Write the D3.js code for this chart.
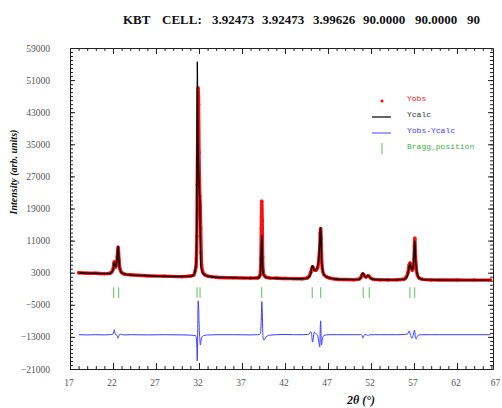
<!DOCTYPE html>
<html><head><meta charset="utf-8">
<script src="https://cdn.jsdelivr.net/npm/d3@7"></script>
<style>html,body{margin:0;padding:0;background:#fff;} svg{display:block;}</style>
</head><body><svg id="chart" width="502" height="408"></svg>
<script>
// ---------------- DATA ----------------
const titleParts = ["KBT", "CELL:", "3.92473", "3.92473", "3.99626", "90.0000", "90.0000", "90"];

const twoTheta = [
  18, 19, 20, 21, 21.6,
  21.8, 22.0, 22.1, 22.15, 22.2, 22.3, 22.4, 22.5, 22.55, 22.6, 22.7, 22.8, 23.0, 23.4,
  24, 26, 28, 30, 31.0, 31.4,
  31.55, 31.65, 31.7, 31.75, 31.8, 31.85, 31.9, 31.95, 32.0, 32.05, 32.1, 32.15, 32.2, 32.25, 32.3, 32.4, 32.5, 32.7, 33.0, 33.5,
  34, 36, 38, 38.8,
  39.0, 39.1, 39.15, 39.2, 39.25, 39.3, 39.35, 39.4, 39.45, 39.55, 39.8, 40.2,
  41, 42, 43, 44, 44.6,
  44.8, 45.0, 45.1, 45.2, 45.3, 45.4, 45.6, 45.8, 45.95, 46.05, 46.1, 46.15, 46.2, 46.25, 46.35, 46.5, 46.8, 47.2,
  48, 49, 50, 50.6,
  50.8, 50.95, 51.05, 51.15, 51.3, 51.45, 51.6, 51.7, 51.8, 52.0, 52.4,
  53, 54, 55, 55.9,
  56.1, 56.3, 56.45, 56.55, 56.65, 56.8, 56.9, 57.0, 57.05, 57.1, 57.15, 57.25, 57.4, 57.6, 58.0,
  59, 60, 62, 64, 65.9
];

const yObs = [
  2980, 2880, 2870, 2760, 2820,
  3050, 3800, 5200, 5700, 5100, 4400, 4900, 7000, 8600, 9300, 6200, 4000, 3050, 2600,
  2480, 2230, 2120, 2020, 2170, 2420,
  3400, 4500, 6500, 12000, 25000, 38000, 49000, 45000, 33000, 26000, 22000, 19500, 14000, 8000, 5000, 3500, 2900, 2450, 2150, 2000,
  1870, 1730, 1660, 1680,
  1950, 2400, 3300, 6500, 14000, 20800, 16000, 7000, 3600, 2400, 1900, 1700,
  1620, 1540, 1520, 1480, 1680,
  2100, 3100, 4000, 4500, 4100, 3700, 3600, 4300, 6500, 10000, 12800, 14000, 11500, 7200, 3900, 2600, 2000, 1650,
  1370, 1290, 1260, 1380,
  1750, 2400, 2700, 2500, 2050, 1950, 2150, 2200, 2050, 1600, 1320,
  1260, 1220, 1230, 1420,
  1900, 3000, 5000, 5400, 4400, 3600, 4200, 6500, 9500, 11600, 8500, 4600, 2400, 1650, 1350,
  1210, 1170, 1170, 1140, 1160
];

const yCalc = [
  2950, 2900, 2850, 2780, 2800,
  3000, 3700, 4800, 5600, 5300, 4500, 5000, 7500, 9200, 9600, 6000, 3900, 3000, 2650,
  2450, 2250, 2100, 2050, 2150, 2450,
  3500, 5000, 8000, 18000, 55500, 42000, 34000, 29000, 25500, 23000, 20500, 14000, 6000, 4500, 3800, 3100, 2700, 2400, 2150, 2000,
  1850, 1750, 1650, 1700,
  1900, 2300, 3000, 5000, 9500, 12300, 9000, 5000, 3200, 2300, 1850, 1700,
  1600, 1550, 1500, 1500, 1650,
  2000, 2800, 4000, 4800, 4300, 3600, 3700, 4500, 7000, 11000, 13500, 14200, 11000, 7000, 4000, 2700, 2000, 1700,
  1350, 1300, 1280, 1350,
  1700, 2500, 2900, 2600, 2100, 2000, 2200, 2250, 2000, 1550, 1300,
  1250, 1230, 1220, 1400,
  1800, 2800, 4700, 5300, 4400, 3700, 4300, 7000, 10000, 11000, 8000, 4500, 2500, 1700, 1350,
  1200, 1180, 1160, 1150, 1150
];

const yDiff = [
  -12450, -12500, -12450, -12500, -12450,
  -12400, -12300, -11600, -11200, -11800, -12400, -12500, -12800, -13300, -13200, -12700, -12300, -12400, -12500,
  -12450, -12500, -12450, -12500, -12550, -12650,
  -12600, -12900, -13500, -15500, -19000, -12000, -4000, -5000, -9000, -12000, -13500, -15000, -14500, -13800, -13200, -12900, -12700, -12600, -12500, -12500,
  -12450, -12450, -12500, -12450,
  -12400, -12300, -12100, -11000, -8000, -4200, -6000, -10500, -13300, -13800, -13000, -12600,
  -12450, -12400, -12450, -12450, -12400,
  -12300, -11700, -12400, -14300, -13200, -11800, -12200, -12600, -14500, -15500, -11000, -9000, -13000, -15000, -13500, -12700, -12500, -12450,
  -12450, -12450, -12450, -12450,
  -12400, -12600, -13300, -12900, -12400, -12450, -12600, -12700, -12500, -12450, -12450,
  -12450, -12450, -12450, -12400,
  -12350, -12200, -11500, -12200, -13000, -13300, -12600, -11800, -11300, -11600, -13000, -13500, -12800, -12500, -12450,
  -12450, -12450, -12450, -12450, -12450
];

const braggPositions = [22.08, 22.66, 31.77, 32.12, 39.29, 45.17, 46.15, 51.1, 51.8, 56.53, 57.08];

const xTickValues = [17, 22, 27, 32, 37, 42, 47, 52, 57, 62, 67];
const yTickValues = [59000, 51000, 43000, 35000, 27000, 19000, 11000, 3000, -5000, -13000, -21000];
const legendLabels = ["Yobs", "Ycalc", "Yobs-Ycalc", "Bragg_position"];
const xTitle = "2θ (°)";
const yTitle = "Intensity (arb. units)";

// ---------------- LAYOUT ----------------
const svg = d3.select("#chart");
const frame = {left: 70, right: 493, top: 48, bottom: 369};
const x = d3.scaleLinear().domain([17, 66.19]).range([frame.left, frame.right]);
const y = d3.scaleLinear().domain([-21000, 59000]).range([frame.bottom, frame.top]);
const serif = "'Liberation Serif', 'Times New Roman', serif";
const mono = "'Liberation Mono', 'Courier New', monospace";
const axisColor = "#222";
const labelColor = "#555";

// Title
const titleX = [123, 162, 212, 262, 313, 363, 415, 467];
svg.append("text")
  .attr("y", 24)
  .attr("font-family", serif).attr("font-weight", "bold").attr("font-size", 13)
  .attr("fill", "#111")
  .selectAll("tspan").data(titleParts).join("tspan")
  .attr("x", (d, i) => titleX[i]).text(d => d);

// Axes
const n = twoTheta.length;
const minorX = d3.range(17, 67, 1).filter(v => v <= x.domain()[1]);
const minorY = d3.range(-21000, 59001, 1000);

function styleAxis(g) {
  g.selectAll("path.domain").attr("stroke", axisColor).attr("stroke-width", 1);
  g.selectAll(".tick line").attr("stroke", axisColor);
  g.selectAll("text").attr("fill", labelColor);
}

// bottom
const gxB = svg.append("g").attr("transform", `translate(0,${frame.bottom})`)
  .call(d3.axisBottom(x).tickValues(xTickValues).tickSize(-6).tickSizeOuter(0).tickPadding(10).tickFormat(d3.format("d")))
  .attr("font-family", serif).attr("font-size", 9.5);
gxB.selectAll(".tick").filter(d => d > x.domain()[1]).select("line").remove();
gxB.selectAll("text").attr("dx", d => d > x.domain()[1] ? -5 : -1.5);
styleAxis(gxB);
svg.append("g").attr("transform", `translate(0,${frame.bottom})`)
  .call(d3.axisBottom(x).tickValues(minorX).tickSize(-3).tickSizeOuter(0).tickFormat(""))
  .call(g => g.select(".domain").remove()).call(styleAxis);

// top
const gxT = svg.append("g").attr("transform", `translate(0,${frame.top})`)
  .call(d3.axisTop(x).tickValues(xTickValues.filter(v => v <= x.domain()[1])).tickSize(-6).tickSizeOuter(0).tickFormat(""));
styleAxis(gxT);
svg.append("g").attr("transform", `translate(0,${frame.top})`)
  .call(d3.axisTop(x).tickValues(minorX).tickSize(-3).tickSizeOuter(0).tickFormat(""))
  .call(g => g.select(".domain").remove()).call(styleAxis);

// left
const gyL = svg.append("g").attr("transform", `translate(${frame.left},0)`)
  .call(d3.axisLeft(y).tickValues(yTickValues).tickSize(-5).tickSizeOuter(0).tickPadding(20).tickFormat(d3.format("d")))
  .attr("font-family", serif).attr("font-size", 9.5);
styleAxis(gyL);
svg.append("g").attr("transform", `translate(${frame.left},0)`)
  .call(d3.axisLeft(y).tickValues(minorY).tickSize(-3).tickSizeOuter(0).tickFormat(""))
  .call(g => g.select(".domain").remove()).call(styleAxis);

// right
const gyR = svg.append("g").attr("transform", `translate(${frame.right},0)`)
  .call(d3.axisRight(y).tickValues(yTickValues).tickSize(-5).tickSizeOuter(0).tickFormat(""));
styleAxis(gyR);
svg.append("g").attr("transform", `translate(${frame.right},0)`)
  .call(d3.axisRight(y).tickValues(minorY).tickSize(-3).tickSizeOuter(0).tickFormat(""))
  .call(g => g.select(".domain").remove()).call(styleAxis);

// Axis titles
svg.append("text").attr("x", 361).attr("y", 404).attr("text-anchor", "middle")
  .attr("font-family", serif).attr("font-weight", "bold").attr("font-style", "italic")
  .attr("font-size", 12).attr("fill", "#111").text(xTitle);
svg.append("text").attr("transform", "translate(17,172) rotate(-90)").attr("text-anchor", "middle")
  .attr("font-family", serif).attr("font-weight", "bold").attr("font-style", "italic")
  .attr("font-size", 10).attr("fill", "#111").text(yTitle);

// Plot area
svg.append("clipPath").attr("id", "clip").append("rect")
  .attr("x", frame.left).attr("y", frame.top)
  .attr("width", frame.right - frame.left).attr("height", frame.bottom - frame.top);
const plot = svg.append("g").attr("clip-path", "url(#clip)");
const idx = d3.range(n);

const lineObs = d3.line().x(i => x(twoTheta[i])).y(i => y(yObs[i])).curve(d3.curveMonotoneX);
const lineCalc = d3.line().x(i => x(twoTheta[i])).y(i => y(yCalc[i])).curve(d3.curveMonotoneX);
const lineDiff = d3.line().x(i => x(twoTheta[i])).y(i => y(yDiff[i])).curve(d3.curveMonotoneX);

plot.append("path").attr("d", lineObs(idx)).attr("fill", "none")
  .attr("stroke", "#ff1010").attr("stroke-width", 3.4).attr("stroke-linejoin", "round").attr("stroke-linecap", "round");
plot.append("g").selectAll("circle").data(idx).join("circle")
  .attr("cx", i => x(twoTheta[i])).attr("cy", i => y(yObs[i])).attr("r", 1.8).attr("fill", "#ff1010");
plot.append("path").attr("d", lineCalc(idx)).attr("fill", "none")
  .attr("stroke", "#000").attr("stroke-width", 1.4).attr("stroke-linejoin", "round");
plot.append("path").attr("d", lineDiff(idx)).attr("fill", "none")
  .attr("stroke", "#3b3bff").attr("stroke-width", 1).attr("stroke-linejoin", "round");

plot.append("g").selectAll("line").data(braggPositions).join("line")
  .attr("x1", d => x(d)).attr("x2", d => x(d))
  .attr("y1", y(-600)).attr("y2", y(-3300))
  .attr("stroke", "#6cc46c").attr("stroke-width", 1.1);

// Legend
const lg = svg.append("g").attr("font-family", mono).attr("font-size", 8);
const lgColors = ["#ff1010", "#333", "#4040ff", "#40b040"];
const lgY = [101, 117, 133, 149];
lg.selectAll("text").data(legendLabels).join("text")
  .attr("x", 407).attr("y", (d, i) => lgY[i]).attr("fill", (d, i) => lgColors[i]).text(d => d);
lg.append("circle").attr("cx", 382).attr("cy", 101).attr("r", 1.6).attr("fill", "#ff1010");
lg.append("line").attr("x1", 372).attr("x2", 391).attr("y1", 117).attr("y2", 117).attr("stroke", "#333").attr("stroke-width", 1.5);
lg.append("line").attr("x1", 372).attr("x2", 391).attr("y1", 133).attr("y2", 133).attr("stroke", "#4040ff").attr("stroke-width", 1);
lg.append("line").attr("x1", 382).attr("x2", 382).attr("y1", 143).attr("y2", 154).attr("stroke", "#6cc46c").attr("stroke-width", 1.1);
</script>
</body></html>
